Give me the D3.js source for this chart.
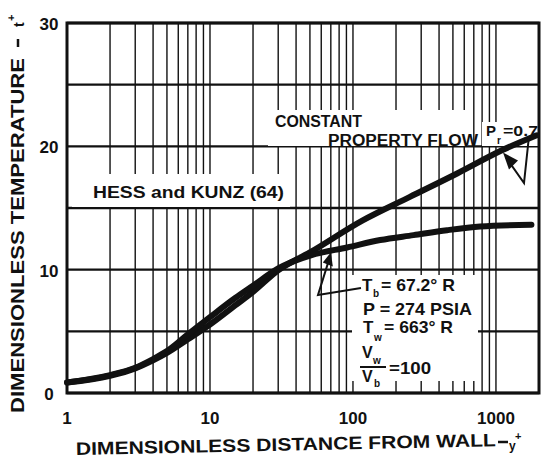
<!DOCTYPE html>
<html>
<head>
<meta charset="utf-8">
<script src="https://cdn.jsdelivr.net/npm/d3@7"></script>
<style>
  html, body { margin: 0; padding: 0; background: #fff; }
  svg { display: block; }
  text { font-family: "Liberation Sans", Arial, sans-serif; font-weight: bold; fill: #111; }
</style>
</head>
<body>
<svg id="chart" width="542" height="464"></svg>
<script>
// Dimensionless temperature profile t+ against wall distance y+
const xTickValues = [1, 10, 100, 1000];
const xTickLabels = ["1", "10", "100", "1000"];
const yTickValues = [0, 10, 20, 30];
const yTickLabels = ["0", "10", "20", "30"];

// Constant property flow, Pr = 0.7
const yPlusConst = [1, 2, 3, 4, 5, 7, 10, 15, 20, 30, 50, 117, 250, 535, 1110, 1930];
const tPlusConst = [0.85, 1.4, 2.0, 2.65, 3.25, 4.35, 5.55, 7.1, 8.2, 9.95, 11.4, 14.0, 15.9, 17.8, 19.7, 20.9];

// Hess and Kunz (64), variable property
const yPlusHK = [1, 2, 3, 4, 5, 7, 10, 15, 20, 30, 52, 91, 155, 265, 455, 775, 1770];
const tPlusHK = [0.85, 1.45, 2.05, 2.75, 3.4, 4.75, 6.15, 7.7, 8.7, 10.1, 11.2, 11.8, 12.4, 12.8, 13.2, 13.5, 13.65];

const svg = d3.select("#chart");
const ink = "#111";

const x = d3.scaleLog().domain([1, 2000]).range([67, 539]);
const y = d3.scaleLinear().domain([0, 30]).range([393, 23]);

// log grid: every integer multiple within each decade
const vGrid = [];
for (let p = 0; p <= 3; p++) {
  for (let m = 1; m <= 9; m++) {
    const v = m * Math.pow(10, p);
    if (v > 1 && v < 2000) vGrid.push(v);
  }
}
const hGrid = y.ticks(6);

const grid = svg.append("g");
grid.selectAll("line.v").data(vGrid).join("line")
  .attr("x1", d => x(d)).attr("x2", d => x(d))
  .attr("y1", y(30)).attr("y2", y(0))
  .attr("stroke", ink).attr("stroke-width", 1.4);
grid.selectAll("line.h").data(hGrid).join("line")
  .attr("x1", x(1)).attr("x2", x(2000))
  .attr("y1", d => y(d)).attr("y2", d => y(d))
  .attr("stroke", ink).attr("stroke-width", 2.3);

// white panels behind the lettering
const panels = [
  [72, 174, 218, 33],
  [268, 110, 200, 36],
  [482, 122, 56, 24],
  [352, 275, 126, 106]
];
svg.append("g").selectAll("rect").data(panels).join("rect")
  .attr("x", d => d[0]).attr("y", d => d[1])
  .attr("width", d => d[2]).attr("height", d => d[3])
  .attr("fill", "#fff");

// frame
svg.append("rect")
  .attr("x", x(1)).attr("y", y(30))
  .attr("width", x(2000) - x(1)).attr("height", y(0) - y(30))
  .attr("fill", "none").attr("stroke", ink).attr("stroke-width", 3);

// curves
const line = d3.line().x(d => x(d[0])).y(d => y(d[1])).curve(d3.curveMonotoneX);
const curves = [d3.zip(yPlusConst, tPlusConst), d3.zip(yPlusHK, tPlusHK)];
svg.append("g").selectAll("path").data(curves).join("path")
  .attr("d", line)
  .attr("fill", "none").attr("stroke", ink)
  .attr("stroke-width", 6).attr("stroke-linecap", "round");

// tick labels
svg.append("g").selectAll("text").data(xTickValues).join("text")
  .attr("x", d => x(d)).attr("y", 424)
  .attr("text-anchor", "middle").attr("font-size", 17)
  .text((d, i) => xTickLabels[i]);
svg.append("g").selectAll("text").data(yTickValues).join("text")
  .attr("x", 49).attr("y", d => y(d) + 7)
  .attr("text-anchor", "middle").attr("font-size", 17)
  .text((d, i) => yTickLabels[i]);

// helper for lettering squeezed to a width
function letter(str, px, py, size, len) {
  const t = svg.append("text").attr("x", px).attr("y", py)
    .attr("font-size", size).text(str);
  if (len) t.attr("textLength", len).attr("lengthAdjust", "spacingAndGlyphs");
  return t;
}

// axis titles
letter("DIMENSIONLESS DISTANCE FROM WALL", 76, 455, 18, 420)
  .attr("transform", "rotate(-1.2 76 455)");
svg.append("line").attr("x1", 498).attr("x2", 508).attr("y1", 442).attr("y2", 442)
  .attr("stroke", ink).attr("stroke-width", 2.5);
letter("y", 509, 450, 12);
letter("+", 515, 440, 11);

const yTitle = svg.append("g").attr("transform", "translate(24,413) rotate(-90)");
yTitle.append("text").attr("x", 0).attr("y", 0).attr("font-size", 18)
  .attr("textLength", 355).attr("lengthAdjust", "spacingAndGlyphs")
  .text("DIMENSIONLESS TEMPERATURE");
yTitle.append("line").attr("x1", 366).attr("x2", 374).attr("y1", -6).attr("y2", -6)
  .attr("stroke", ink).attr("stroke-width", 2.5);
yTitle.append("text").attr("x", 386).attr("y", 0).attr("font-size", 14).text("t");
yTitle.append("text").attr("x", 392).attr("y", -9).attr("font-size", 11).text("+");

// curve labels
letter("CONSTANT", 275, 127, 16, 87);
letter("PROPERTY  FLOW", 328, 146, 16, 150);
letter("P", 486, 136, 15);
letter("r", 497, 144, 10);
letter("=0.7", 503, 136, 15, 35);
letter("HESS  and  KUNZ  (64)", 93, 198, 16, 191);

// leader to the constant property curve
const arrowTip = [1120, 19.5];
svg.append("polyline")
  .attr("points", [[529, 136], [524, 183], [x(arrowTip[0]) + 3, y(arrowTip[1]) + 5]].join(" "))
  .attr("fill", "none").attr("stroke", ink).attr("stroke-width", 2);
{
  const tx = x(arrowTip[0]), ty = y(arrowTip[1]);
  svg.append("path")
    .attr("d", `M${tx},${ty} L${tx + 15},${ty + 8} L${tx + 6},${ty + 17} Z`)
    .attr("fill", ink);
}

// test conditions, with a leader to the Hess and Kunz curve
const condTip = [70, 11.4];
{
  const tx = x(condTip[0]), ty = y(condTip[1]);
  svg.append("polyline")
    .attr("points", [[361, 288], [318, 295], [tx - 2, ty + 8]].join(" "))
    .attr("fill", "none").attr("stroke", ink).attr("stroke-width", 2);
  svg.append("path")
    .attr("d", `M${tx},${ty} L${tx + 2},${ty + 14} L${tx - 8},${ty + 10} Z`)
    .attr("fill", ink);
}
letter("T", 362, 291, 17);
letter("b", 373, 297, 10);
letter("= 67.2° R", 381, 291, 17, 74);
letter("P = 274  PSIA", 363, 315, 17, 109);
letter("T", 363, 333, 17);
letter("w", 374, 341, 10);
letter("= 663° R", 384, 333, 17, 69);
letter("V", 362, 358, 16);
letter("w", 373, 364, 10);
svg.append("line").attr("x1", 360).attr("x2", 386).attr("y1", 367).attr("y2", 367)
  .attr("stroke", ink).attr("stroke-width", 2);
letter("V", 362, 382, 16);
letter("b", 374, 387, 10);
letter("=100", 389, 374, 17, 42);
</script>
</body>
</html>
